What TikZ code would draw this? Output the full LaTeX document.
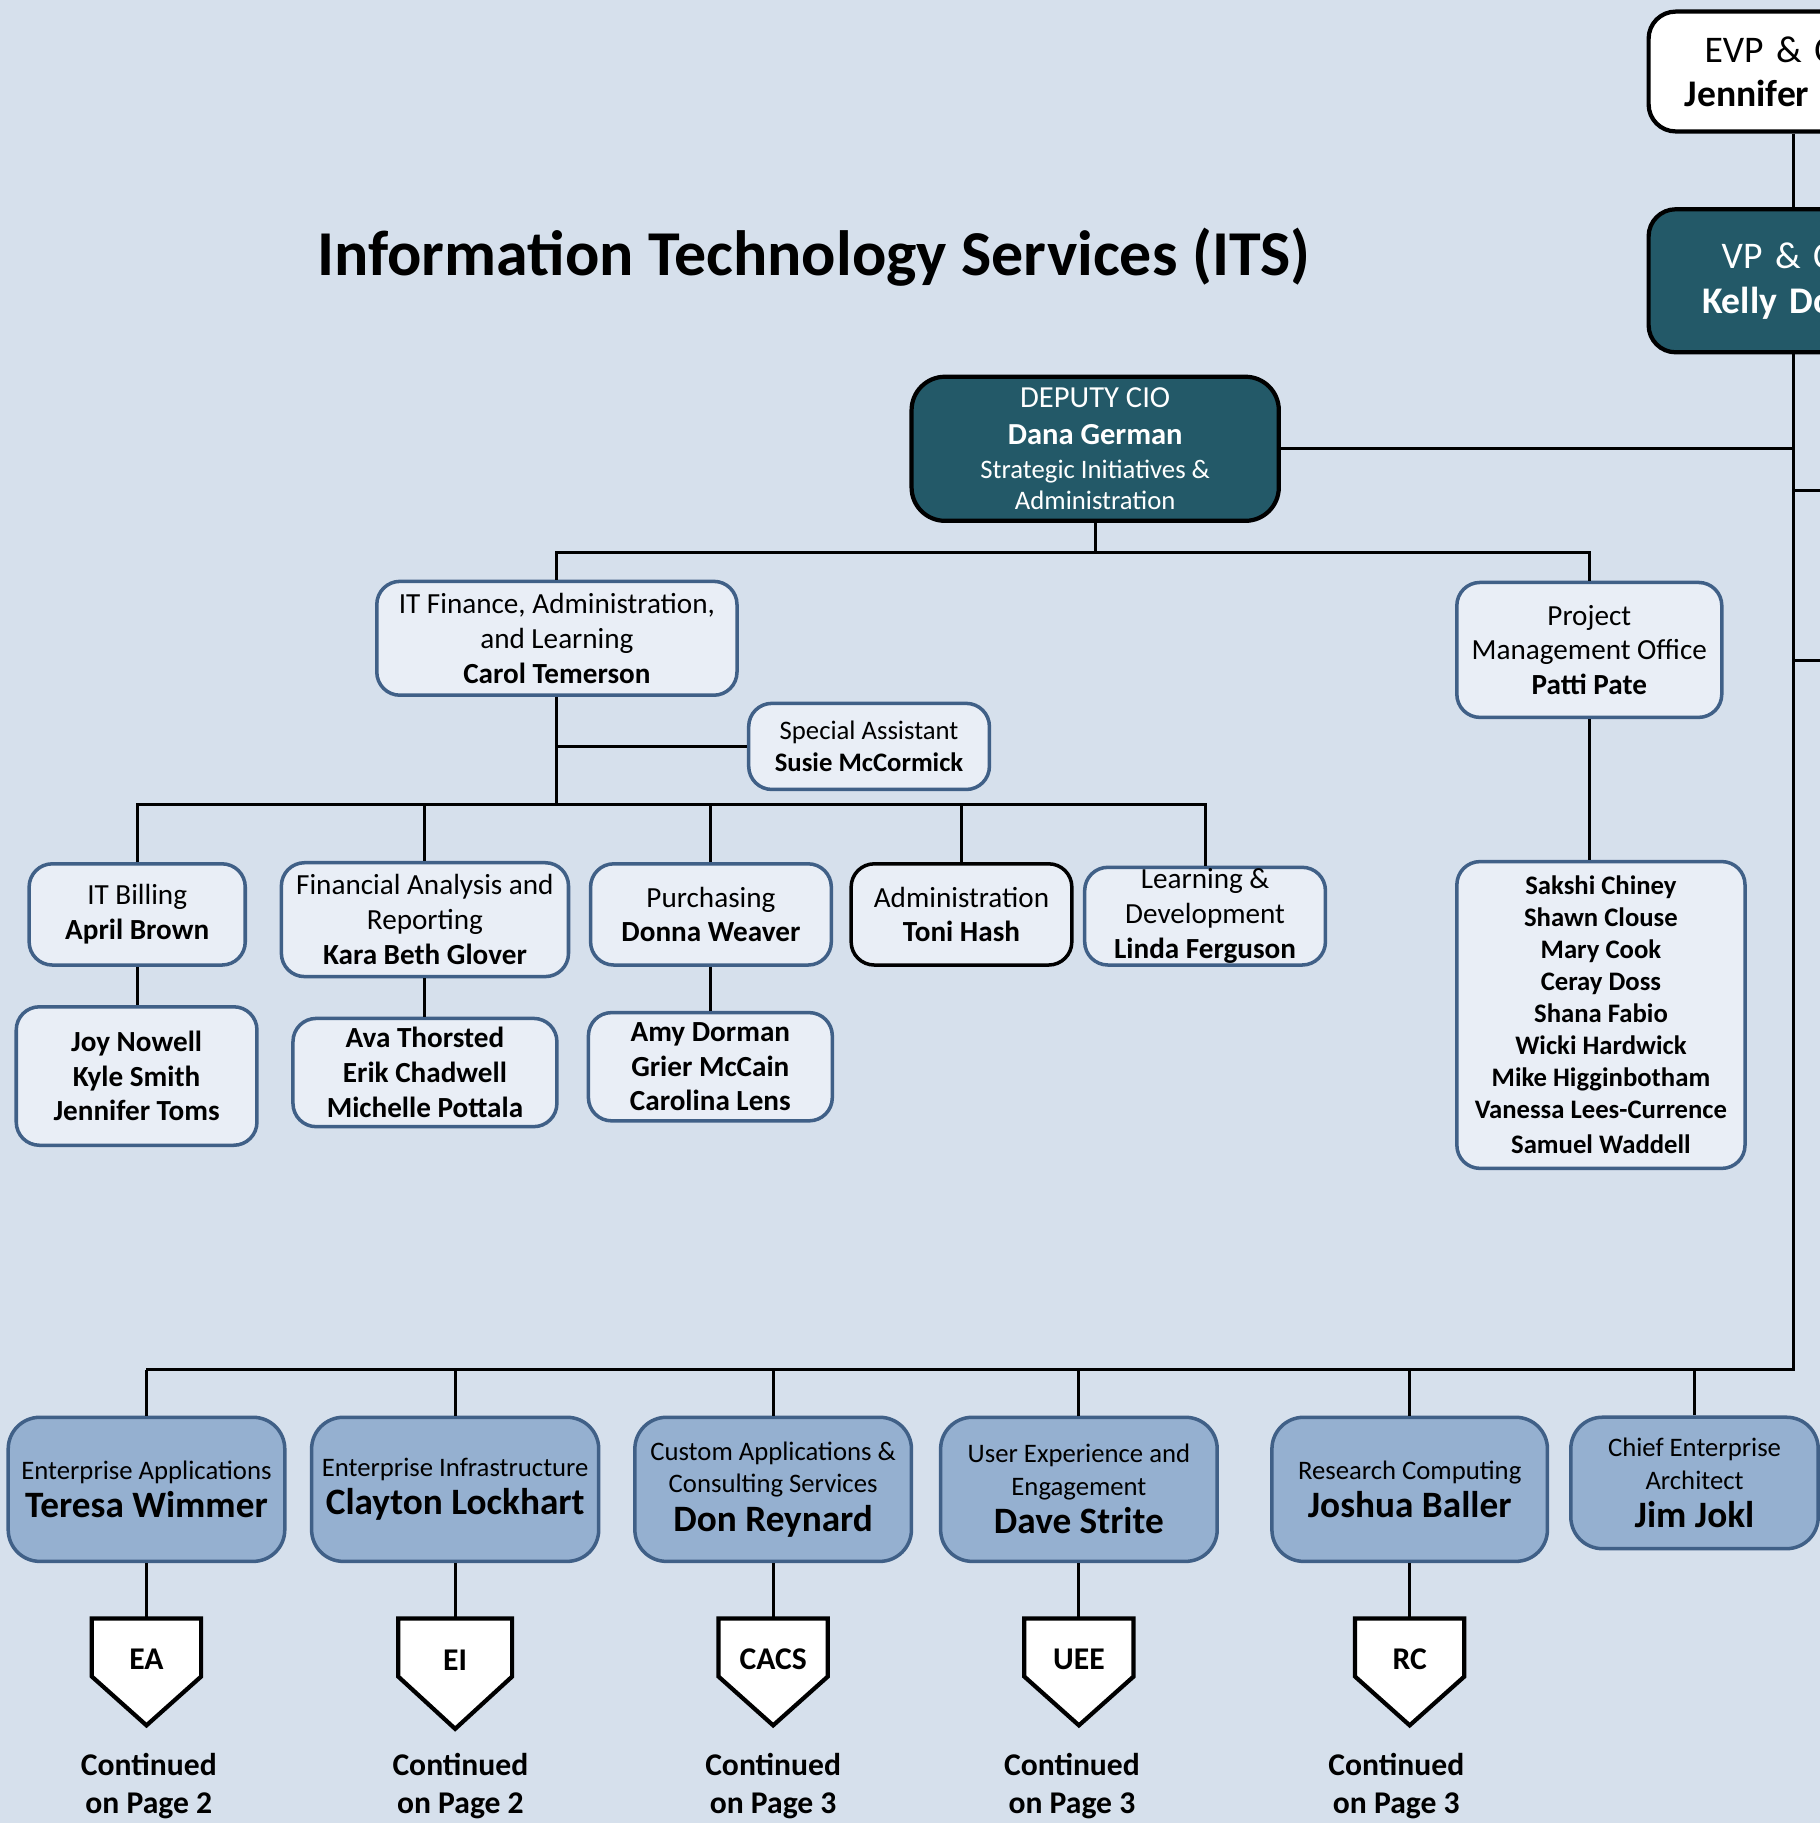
\documentclass[tikz,border=0pt]{standalone}
\usepackage{fontspec}
\setmainfont{Carlito}
\definecolor{pagebg}{RGB}{214,224,236}
\definecolor{unitfill}{RGB}{233,238,246}
\definecolor{unitline}{RGB}{64,96,135}
\definecolor{headfill}{RGB}{35,89,104}
\definecolor{divfill}{RGB}{149,176,208}
\tikzstyle{unit}=[rectangle,rounded corners=6.6pt,draw=unitline,line width=1pt,fill=unitfill,align=center,inner sep=0pt,font=\fontsize{8.3}{9.9}\selectfont]
\tikzstyle{staff}=[unit,font=\fontsize{8.3}{9.9}\selectfont\bfseries]
\tikzstyle{head}=[rectangle,rounded corners=9.5pt,draw=black,line width=1.2pt,fill=headfill,text=white,align=center,inner sep=0pt]
\tikzstyle{division}=[rectangle,rounded corners=9pt,draw=unitline,line width=1pt,fill=divfill,align=center,inner sep=0pt,minimum height=41pt,font=\fontsize{7.6}{9.3}\selectfont]
\tikzstyle{tag}=[inner sep=0pt,font=\fontsize{9}{10.9}\selectfont\bfseries]
\tikzstyle{tagline}=[draw=black,line width=1.2pt,fill=white]
\tikzstyle{note}=[align=center,inner sep=0pt,font=\fontsize{9}{10.9}\selectfont\bfseries]
\tikzstyle{link}=[line width=0.85pt]
\newcommand{\divname}[1]{{\fontsize{10.6}{12}\selectfont\bfseries #1}}

\begin{document}
\begin{tikzpicture}[x=0.011623cm, y=-0.011623cm]
\useasboundingbox (0, 0) rectangle (1565, 1568);
\fill[pagebg] (0, 0) rectangle (1565, 1568);

\node[font=\fontsize{18.2}{22}\selectfont\bfseries] at (700, 221) (title) {Information Technology Services (ITS)};

\node[rectangle, rounded corners=7.7pt, draw=black, line width=1.2pt, fill=white, minimum width=82.7pt, minimum height=34.1pt, text width=62.1pt, align=left, inner sep=0pt, font=\fontsize{10.7}{12.6}\selectfont] at (1543, 61.5) (evp) {\hspace*{5.6pt}EVP \& C\\\textbf{Jennifer}};
\node[head, rounded corners=7.7pt, minimum width=82.7pt, minimum height=40.7pt, text width=52.3pt, align=left, font=\fontsize{10.7}{12.9}\selectfont] at (1543, 241.5) (vp) {\hspace*{5.6pt}VP \& C\\\textbf{Kelly Do}};

\node[head, minimum width=104.5pt, minimum height=41pt, font=\fontsize{7.6}{8.9}\selectfont] at (942, 386) (deputy) {{\fontsize{8.7}{10}\selectfont DEPUTY CIO}\\[1.7pt]{\fontsize{8.7}{10}\selectfont\bfseries Dana German}\\[0.7pt]Strategic Initiatives \&\\Administration};

\node[unit, minimum width=102.5pt, minimum height=32.4pt] at (479, 549) (finance) {IT Finance, Administration,\\and Learning\\\textbf{Carol Temerson}};
\node[unit, minimum width=75.4pt, minimum height=38.4pt] at (1367, 559) (pmo) {Project\\Management Office\\\textbf{Patti Pate}};
\node[unit, minimum width=68.5pt, minimum height=24.5pt, font=\fontsize{7.6}{8.9}\selectfont] at (747.5, 642) (assistant) {Special Assistant\\\textbf{Susie McCormick}};
\node[staff, minimum width=82pt, minimum height=87.3pt, font=\fontsize{7.6}{9.1}\selectfont\bfseries] at (1377, 873) (pmostaff) {Sakshi Chiney\\Shawn Clouse\\Mary Cook\\Ceray Doss\\Shana Fabio\\Wicki Hardwick\\Mike Higginbotham\\Vanessa Lees-Currence\\[1pt]Samuel Waddell};

\node[unit, minimum width=61.5pt, minimum height=28.8pt] at (118, 786.5) (billing) {IT Billing\\\textbf{April Brown}};
\node[unit, minimum width=81.7pt, minimum height=32.4pt] at (365.5, 791) (analysis) {Financial Analysis and\\Reporting\\\textbf{Kara Beth Glover}};
\node[unit, minimum width=68.5pt, minimum height=28.8pt] at (611.5, 786.5) (purchasing) {Purchasing\\\textbf{Donna Weaver}};
\node[unit, draw=black, minimum width=62.8pt, minimum height=28.8pt] at (827, 786.5) (admin) {Administration\\\textbf{Toni Hash}};
\node[unit, minimum width=68.5pt, minimum height=27.8pt] at (1036.5, 788) (learning) {Learning \&\\Development\\\textbf{Linda Ferguson}};

\node[staff, minimum width=68.5pt, minimum height=39.4pt] at (117.5, 925.5) (billingstaff) {Joy Nowell\\Kyle Smith\\Jennifer Toms};
\node[staff, minimum width=75.1pt, minimum height=30.8pt] at (365.5, 922.5) (analysisstaff) {Ava Thorsted\\Erik Chadwell\\Michelle Pottala};
\node[staff, minimum width=69.4pt, minimum height=30.8pt] at (611, 917.5) (purchasingstaff) {Amy Dorman\\Grier McCain\\Carolina Lens};

\node[division, minimum width=78.7pt] at (126, 1281) (ea) {Enterprise Applications\\[1.6pt]\divname{Teresa Wimmer}};
\node[division, minimum width=81.7pt] at (391.5, 1281) (ei) {Enterprise Infrastructure\\[1.6pt]\divname{Clayton Lockhart}};
\node[division, minimum width=78.7pt] at (665, 1281) (cacs) {Custom Applications \&\\Consulting Services\\[1.6pt]\divname{Don Reynard}};
\node[division, minimum width=78.7pt] at (928, 1281) (uee) {User Experience and\\Engagement\\[1.6pt]\divname{Dave Strite}};
\node[division, minimum width=78.4pt] at (1212.5, 1281) (rc) {Research Computing\\[1.6pt]\divname{Joshua Baller}};
\node[division, minimum width=70.4pt, minimum height=37.4pt] at (1457.5, 1275.5) (cea) {Chief Enterprise\\Architect\\[1.6pt]\divname{Jim Jokl}};

\draw[link] (evp.south) -- (vp.north);
\coordinate (divbus) at (1543, 1178);
\draw[link] (vp.south) -- (divbus) -- (divbus -| ea.north);
\draw[link] (deputy.east) -- (deputy.east -| vp.south);
\coordinate (offone) at (1565, 422);
\coordinate (offtwo) at (1565, 568);
\draw[link] (offone -| vp.south) -- (offone);
\draw[link] (offtwo -| vp.south) -- (offtwo);

\coordinate (deputybus) at (942, 475);
\draw[link] (deputy.south) -- (deputybus);
\draw[link] (finance.north) -- (finance.north |- deputybus) -- (pmo.north |- deputybus) -- (pmo.north);

\coordinate (financebus) at (479, 692);
\draw[link] (finance.south) -- (financebus);
\draw[link] (assistant.west) -- (assistant.west -| finance.south);
\draw[link] (billing.north) -- (billing.north |- financebus) -- (learning.north |- financebus) -- (learning.north);
\draw[link] (analysis.north) -- (analysis.north |- financebus);
\draw[link] (purchasing.north) -- (purchasing.north |- financebus);
\draw[link] (admin.north) -- (admin.north |- financebus);

\draw[link] (billing.south) -- (billing.south |- billingstaff.north);
\draw[link] (analysis.south) -- (analysisstaff.north);
\draw[link] (purchasing.south) -- (purchasing.south |- purchasingstaff.north);
\draw[link] (pmo.south) -- (pmo.south |- pmostaff.north);

\draw[link] (ea.north) -- (ea.north |- divbus);
\draw[link] (ei.north) -- (ei.north |- divbus);
\draw[link] (cacs.north) -- (cacs.north |- divbus);
\draw[link] (uee.north) -- (uee.north |- divbus);
\draw[link] (rc.north) -- (rc.north |- divbus);
\draw[link] (cea.north) -- (cea.north |- divbus);

\coordinate (eatop) at (126, 1392);
\coordinate (eitop) at (391.5, 1392);
\coordinate (cacstop) at (665, 1392);
\coordinate (ueetop) at (928, 1392);
\coordinate (rctop) at (1212.5, 1392);
\draw[link] (ea.south) -- (eatop);
\draw[link] (ei.south) -- (eitop);
\draw[link] (cacs.south) -- (cacstop);
\draw[link] (uee.south) -- (ueetop);
\draw[link] (rc.south) -- (rctop);
\draw[tagline] (eatop) -- ++(47, 0) -- ++(0, 50) -- ++(-47, 42) -- ++(-47, -42) -- ++(0, -50) -- cycle;
\draw[tagline] (eitop) -- ++(49, 0) -- ++(0, 50) -- ++(-49, 45) -- ++(-49, -45) -- ++(0, -50) -- cycle;
\draw[tagline] (cacstop) -- ++(47, 0) -- ++(0, 50) -- ++(-47, 42) -- ++(-47, -42) -- ++(0, -50) -- cycle;
\draw[tagline] (ueetop) -- ++(47, 0) -- ++(0, 50) -- ++(-47, 42) -- ++(-47, -42) -- ++(0, -50) -- cycle;
\draw[tagline] (rctop) -- ++(47, 0) -- ++(0, 50) -- ++(-47, 42) -- ++(-47, -42) -- ++(0, -50) -- cycle;
\node[tag] at (126, 1427) (eatag) {EA};
\node[tag] at (391.5, 1428) (eitag) {EI};
\node[tag] at (665, 1427) (cacstag) {CACS};
\node[tag] at (928, 1427) (ueetag) {UEE};
\node[tag] at (1212.5, 1427) (rctag) {RC};

\node[note] at (128, 1536) (eanote) {Continued\\on Page 2};
\node[note] at (396, 1536) (einote) {Continued\\on Page 2};
\node[note] at (665, 1536) (cacsnote) {Continued\\on Page 3};
\node[note] at (922, 1536) (ueenote) {Continued\\on Page 3};
\node[note] at (1201, 1536) (rcnote) {Continued\\on Page 3};

\end{tikzpicture}
\end{document}
